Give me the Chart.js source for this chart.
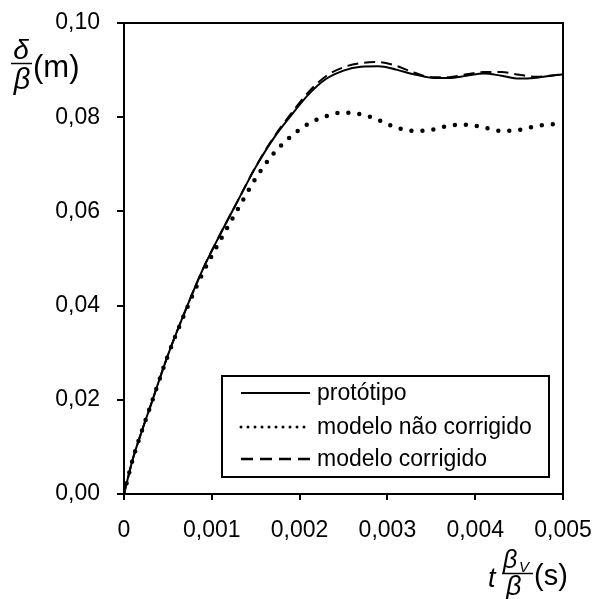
<!DOCTYPE html>
<html><head><meta charset="utf-8">
<script src="https://cdn.jsdelivr.net/npm/chart.js@4/dist/chart.umd.min.js"></script>
<style>html,body{margin:0;padding:0;background:#fff;overflow:hidden}</style>
</head><body>
<canvas id="c" width="594" height="599" style="display:block;width:594px;height:599px"></canvas>
<script>
const tValues = [0, 0.0001, 0.0002, 0.0003, 0.0005, 0.0007, 0.0009, 0.0011, 0.0013, 0.0015, 0.0017, 0.0019, 0.0021, 0.0023, 0.0025, 0.0027, 0.0029, 0.0031, 0.0033, 0.0035, 0.0037, 0.0039, 0.0041, 0.0043, 0.0045, 0.0047, 0.0049, 0.005];
const prototipo = [0, 0.0074, 0.0132, 0.0186, 0.0295, 0.0390, 0.0478, 0.0553, 0.0624, 0.0694, 0.0754, 0.0803, 0.0848, 0.0881, 0.0899, 0.0907, 0.0908, 0.0901, 0.0891, 0.0884, 0.0883, 0.0888, 0.0893, 0.0888, 0.0882, 0.0884, 0.0889, 0.0891];
const modeloNaoCorrigido = [0, 0.0074, 0.0132, 0.0186, 0.0294, 0.0387, 0.0470, 0.0540, 0.0606, 0.0670, 0.0722, 0.0759, 0.0786, 0.0802, 0.0810, 0.0806, 0.0794, 0.0778, 0.0771, 0.0773, 0.0782, 0.0784, 0.0778, 0.0771, 0.0773, 0.0781, 0.0785, 0.0781];
const modeloCorrigido = [0, 0.0074, 0.0132, 0.0186, 0.0295, 0.0390, 0.0478, 0.0553, 0.0624, 0.0695, 0.0756, 0.0807, 0.0853, 0.0887, 0.0906, 0.0915, 0.0917, 0.0909, 0.0895, 0.0885, 0.0885, 0.0891, 0.0896, 0.0896, 0.0890, 0.0886, 0.0889, 0.0891];
const seriesNames = ['protótipo', 'modelo não corrigido', 'modelo corrigido'];
const xTickValues = [0, 0.001, 0.002, 0.003, 0.004, 0.005];
const xTickLabels = ['0', '0,001', '0,002', '0,003', '0,004', '0,005'];
const yTickValues = [0, 0.02, 0.04, 0.06, 0.08, 0.10];
const yTickLabels = ['0,00', '0,02', '0,04', '0,06', '0,08', '0,10'];

const FONT = "Arial, 'Liberation Sans', sans-serif";
const pts = arr => arr.map((v, i) => ({x: tValues[i], y: v}));

const styles = [
  {borderWidth: 2, borderDash: [], cap: 'butt', legDash: [], legWidth: 2},
  {borderWidth: 4.5, borderDash: [0, 11], cap: 'round', legDash: [0, 7], legWidth: 3},
  {borderWidth: 2, borderDash: [11, 6], cap: 'butt', legDash: [12, 7], legWidth: 2.5}
];
const seriesData = [prototipo, modeloNaoCorrigido, modeloCorrigido];

const framePlugin = {
  id: 'frame',
  afterDraw(chart) {
    const ctx = chart.ctx, a = chart.chartArea;
    ctx.save();
    ctx.strokeStyle = '#000'; ctx.lineWidth = 2;
    ctx.strokeRect(a.left, a.top, a.right - a.left, a.bottom - a.top);

    // legend box
    const bx = a.left + 98, by = a.top + 353, bw = 327, bh = 101;
    ctx.fillStyle = '#fff';
    ctx.fillRect(bx, by, bw, bh);
    ctx.strokeRect(bx, by, bw, bh);
    const rowY = [by + 17, by + 51, by + 83];
    ctx.font = '23px ' + FONT;
    ctx.textBaseline = 'middle'; ctx.textAlign = 'left';
    seriesNames.forEach((name, i) => {
      const s = styles[i];
      ctx.beginPath();
      ctx.setLineDash(s.legDash);
      ctx.lineCap = s.cap;
      ctx.lineWidth = s.legWidth;
      ctx.moveTo(bx + 19, rowY[i]); ctx.lineTo(bx + 88, rowY[i]);
      ctx.stroke();
      ctx.setLineDash([]);
      ctx.fillStyle = '#000';
      ctx.fillText(name, bx + 95, rowY[i] + 1);
    });

    // y axis title: δ/β (m)
    ctx.fillStyle = '#000';
    ctx.textBaseline = 'alphabetic';
    ctx.textAlign = 'center';
    ctx.font = 'italic 28px ' + FONT;
    ctx.fillText('δ', 21, 59);
    ctx.font = 'italic 29px ' + FONT;
    ctx.fillText('β', 22, 89);
    ctx.lineWidth = 1.5; ctx.lineCap = 'butt';
    ctx.beginPath(); ctx.moveTo(11, 63.5); ctx.lineTo(32, 63.5); ctx.stroke();
    ctx.textAlign = 'left';
    ctx.font = '31px ' + FONT;
    ctx.fillText('(m)', 33, 77);

    // x axis title: t βV/β (s)
    ctx.font = 'italic 27px ' + FONT;
    ctx.fillText('t', 488, 587);
    ctx.font = 'italic 25px ' + FONT;
    ctx.fillText('β', 503, 568);
    ctx.font = 'italic 15px ' + FONT;
    ctx.fillText('V', 519, 572);
    ctx.font = 'italic 27px ' + FONT;
    ctx.fillText('β', 506, 595);
    ctx.lineWidth = 1.5;
    ctx.beginPath(); ctx.moveTo(502, 573.5); ctx.lineTo(533, 573.5); ctx.stroke();
    ctx.font = '29px ' + FONT;
    ctx.fillText('(s)', 534, 585);
    ctx.restore();
  }
};

new Chart(document.getElementById('c'), {
  type: 'line',
  data: {
    datasets: seriesData.map((arr, i) => ({
      label: seriesNames[i],
      data: pts(arr),
      borderColor: '#000',
      backgroundColor: '#000',
      borderWidth: styles[i].borderWidth,
      borderDash: styles[i].borderDash,
      borderCapStyle: styles[i].cap,
      pointRadius: 0,
      fill: false,
      cubicInterpolationMode: 'monotone'
    }))
  },
  options: {
    responsive: false,
    animation: false,
    devicePixelRatio: 1,
    layout: {padding: {left: 0, top: 23, right: 31, bottom: 0}},
    plugins: {legend: {display: false}, tooltip: {enabled: false}},
    scales: {
      x: {
        type: 'linear', min: 0, max: 0.005,
        afterBuildTicks: s => { s.ticks = xTickValues.map(v => ({value: v})); },
        afterFit: s => { s.height = 105; s.paddingLeft = 0; s.paddingRight = 0; },
        ticks: {
          color: '#000', font: {family: FONT, size: 23}, padding: 17, maxRotation: 0,
          callback: (v, i) => xTickLabels[i]
        },
        grid: {drawOnChartArea: false, drawTicks: true, tickLength: 6, color: '#000', lineWidth: 2},
        border: {display: true, color: '#000', width: 2}
      },
      y: {
        type: 'linear', min: 0, max: 0.1,
        afterBuildTicks: s => { s.ticks = yTickValues.map(v => ({value: v})); },
        afterFit: s => { s.width = 124; s.paddingTop = 0; s.paddingBottom = 0; },
        ticks: {
          color: '#000', font: {family: FONT, size: 23}, padding: 17,
          callback: (v, i) => yTickLabels[i]
        },
        grid: {drawOnChartArea: false, drawTicks: true, tickLength: 7, color: '#000', lineWidth: 2},
        border: {display: true, color: '#000', width: 2}
      }
    }
  },
  plugins: [framePlugin]
});
</script>
</body></html>
